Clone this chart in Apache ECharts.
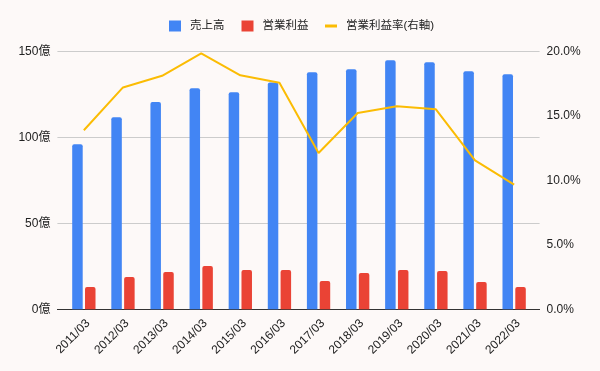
<!DOCTYPE html>
<html>
<head>
<meta charset="utf-8">
<script src="https://cdn.jsdelivr.net/npm/echarts@6/dist/echarts.min.js"></script>
<style>
  html, body { margin: 0; padding: 0; background: #fdf9f8; }
  #chart { width: 600px; height: 371px; }
</style>
</head>
<body>
<div id="chart"></div>
<script>
const categories = ['2011/03','2012/03','2013/03','2014/03','2015/03','2016/03','2017/03','2018/03','2019/03','2020/03','2021/03','2022/03'];
const sales = [95.9, 111.6, 120.5, 128.5, 126.2, 131.8, 137.8, 139.5, 144.8, 143.6, 138.4, 136.6];
const operatingProfit = [13.0, 18.8, 21.7, 25.2, 22.8, 22.8, 16.4, 21.1, 22.8, 22.3, 15.9, 13.0];
const margin = [13.88, 17.2, 18.1, 19.84, 18.14, 17.57, 12.12, 15.22, 15.74, 15.5, 11.55, 9.66];
const leftTicks = { min: 0, max: 150, interval: 50 };
const rightTicks = { min: 0, max: 20, interval: 5 };
const seriesNames = ['売上高', '営業利益', '営業利益率(右軸)'];

const FONT = "Arial, 'Liberation Sans', 'Noto Sans CJK JP', sans-serif";
const TXT = '#222222';
const legendText = { fontSize: 11.5, color: TXT, fontFamily: FONT, lineHeight: 14, padding: [0, 0, 0, 4] };

const chart = echarts.init(document.getElementById('chart'), null, { renderer: 'canvas' });
chart.setOption({
  backgroundColor: '#fdf9f8',
  animation: false,
  textStyle: { fontFamily: FONT },
  legend: [
    {
      top: 14, left: 164, padding: 5,
      itemWidth: 12, itemHeight: 11, itemGap: 17,
      icon: 'rect',
      textStyle: legendText,
      data: [seriesNames[0], seriesNames[1]]
    },
    {
      top: 14, left: 320, padding: 5,
      itemWidth: 12, itemHeight: 3,
      icon: 'rect',
      textStyle: legendText,
      data: [seriesNames[2]]
    }
  ],
  grid: [
    { left: 57.4, right: 60.4, top: 51.3, bottom: 61.7 },
    { left: 64.3, right: 66.3, top: 51.3, bottom: 61.7 }
  ],
  xAxis: [
    {
      gridIndex: 0, type: 'category', data: categories,
      axisLine: { show: true, lineStyle: { color: '#333333', width: 1 } },
      axisTick: { show: false }, axisLabel: { show: false }, splitLine: { show: false }
    },
    {
      gridIndex: 1, type: 'category', data: categories,
      axisLine: { show: false }, axisTick: { show: false },
      axisLabel: {
        rotate: 45, margin: 8, verticalAlign: 'top', fontSize: 12, color: TXT, fontFamily: FONT, interval: 0
      }
    }
  ],
  yAxis: [
    {
      gridIndex: 0, type: 'value', position: 'left',
      min: leftTicks.min, max: leftTicks.max, interval: leftTicks.interval,
      axisLine: { show: false }, axisTick: { show: false },
      axisLabel: { formatter: '{value}億', fontSize: 12, color: TXT, margin: 7, fontFamily: FONT },
      splitLine: { show: true, lineStyle: { color: '#cccccc', width: 1 } }
    },
    {
      gridIndex: 0, type: 'value', position: 'right',
      min: rightTicks.min, max: rightTicks.max, interval: rightTicks.interval,
      axisLine: { show: false }, axisTick: { show: false },
      axisLabel: { formatter: v => v.toFixed(1) + '%', fontSize: 12, color: TXT, margin: 7, fontFamily: FONT },
      splitLine: { show: false }
    },
    { gridIndex: 1, type: 'value', show: false, min: leftTicks.min, max: leftTicks.max, splitLine: { show: false } },
    { gridIndex: 1, type: 'value', show: false, min: rightTicks.min, max: rightTicks.max, splitLine: { show: false } }
  ],
  series: [
    {
      name: seriesNames[0], type: 'bar', xAxisIndex: 1, yAxisIndex: 2,
      data: sales, barWidth: 10.5, barGap: '22%',
      itemStyle: { color: '#4285F4', borderRadius: [2, 2, 0, 0] }
    },
    {
      name: seriesNames[1], type: 'bar', xAxisIndex: 1, yAxisIndex: 2,
      data: operatingProfit, barWidth: 10.5, barGap: '22%',
      itemStyle: { color: '#EA4335', borderRadius: [2, 2, 0, 0] }
    },
    {
      name: seriesNames[2], type: 'line', xAxisIndex: 1, yAxisIndex: 3,
      data: margin, symbol: 'none', showSymbol: false,
      lineStyle: { color: '#FBBC04', width: 2 },
      itemStyle: { color: '#FBBC04' },
      z: 5
    }
  ]
});
</script>
</body>
</html>
